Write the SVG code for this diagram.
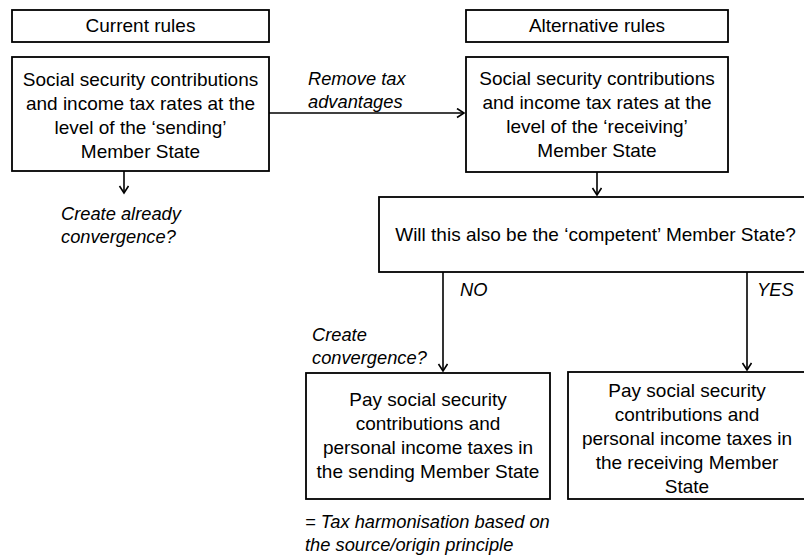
<svg xmlns="http://www.w3.org/2000/svg" width="804" height="560" viewBox="0 0 804 560">
<defs>
<marker id="arr" markerUnits="userSpaceOnUse" markerWidth="12" markerHeight="12" refX="8" refY="5" orient="auto">
<path d="M1,0.5 L8,5 L1,9.5" fill="none" stroke="#000" stroke-width="1.6"/>
</marker>
<style>
.box{fill:#fff;stroke:#000;stroke-width:1.8}
.t{font-family:"Liberation Sans",Arial,sans-serif;font-size:19px;fill:#000;text-anchor:middle}
.i{font-family:"Liberation Sans",Arial,sans-serif;font-size:18.3px;font-style:italic;fill:#000}
.c{fill:none;stroke:#000;stroke-width:1.6}
</style>
</defs>
<rect width="804" height="560" fill="#fff"/>
<g id="connectors">
<path class="c" d="M124,171 V193" marker-end="url(#arr)"/>
<path class="c" d="M269,113 H464" marker-end="url(#arr)"/>
<path class="c" d="M597,172 V195" marker-end="url(#arr)"/>
<path class="c" d="M443,272 V371" marker-end="url(#arr)"/>
<path class="c" d="M747,272 V370" marker-end="url(#arr)"/>
</g>
<g id="current-rules">
<rect class="box" x="12" y="10" width="257" height="32"/>
<text class="t" x="140.5" y="32">Current rules</text>
</g>
<g id="sending">
<rect class="box" x="12" y="57" width="257" height="114"/>
<text class="t" x="140.5" y="86">Social security contributions</text>
<text class="t" x="140.5" y="110">and income tax rates at the</text>
<text class="t" x="140.5" y="134">level of the ‘sending’</text>
<text class="t" x="140.5" y="158">Member State</text>
</g>
<g id="alternative-rules">
<rect class="box" x="466" y="10" width="262" height="32"/>
<text class="t" x="597" y="32">Alternative rules</text>
</g>
<g id="receiving">
<rect class="box" x="466" y="57" width="262" height="115"/>
<text class="t" x="597" y="85">Social security contributions</text>
<text class="t" x="597" y="109">and income tax rates at the</text>
<text class="t" x="597" y="133">level of the ‘receiving’</text>
<text class="t" x="597" y="157">Member State</text>
</g>
<g id="decision">
<rect class="box" x="379" y="197" width="433" height="75"/>
<text class="t" x="595.5" y="241">Will this also be the ‘competent’ Member State?</text>
</g>
<g id="pay-sending">
<rect class="box" x="306" y="373" width="244" height="126"/>
<text class="t" x="428" y="406">Pay social security</text>
<text class="t" x="428" y="430">contributions and</text>
<text class="t" x="428" y="454">personal income taxes in</text>
<text class="t" x="428" y="478">the sending Member State</text>
</g>
<g id="pay-receiving">
<rect class="box" x="568" y="372" width="240" height="127"/>
<text class="t" x="687" y="397">Pay social security</text>
<text class="t" x="687" y="421">contributions  and</text>
<text class="t" x="687" y="445">personal income taxes in</text>
<text class="t" x="687" y="469">the receiving Member</text>
<text class="t" x="687" y="493">State</text>
</g>
<g id="labels">
<text class="i" x="61" y="220">Create already</text>
<text class="i" x="61" y="243">convergence?</text>
<text class="i" x="308" y="85">Remove tax</text>
<text class="i" x="308" y="108">advantages</text>
<text class="i" x="460" y="296">NO</text>
<text class="i" x="757" y="296">YES</text>
<text class="i" x="312" y="341">Create</text>
<text class="i" x="312" y="364">convergence?</text>
<text class="i" x="305" y="528">= Tax harmonisation based on</text>
<text class="i" x="305" y="551">the source/origin principle</text>
</g>
</svg>
